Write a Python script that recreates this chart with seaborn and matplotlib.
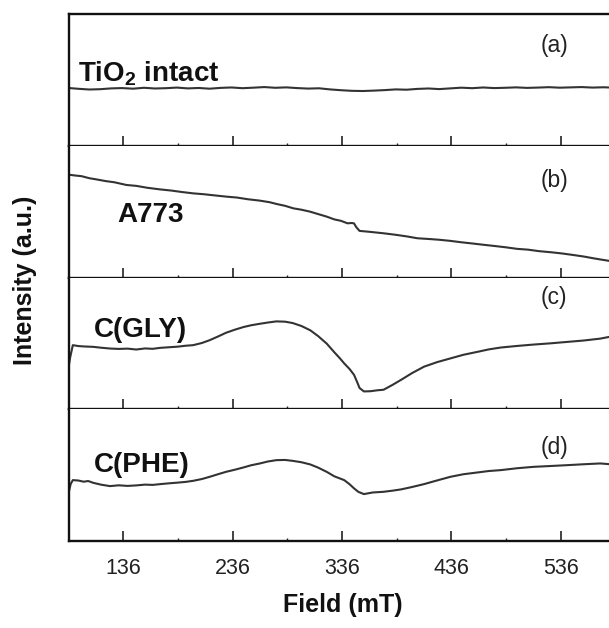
import numpy as np
import pandas as pd
import matplotlib
matplotlib.use("Agg")
import matplotlib.pyplot as plt
from matplotlib import font_manager
from matplotlib.ticker import FixedLocator
import seaborn as sns

# ---------------- data ----------------
field_a = [86, 95, 105, 115, 125, 135, 145, 155, 165, 175, 185, 195, 205, 215, 225,
           235, 245, 255, 265, 275, 285, 295, 305, 315, 325, 335, 345, 355, 365, 375,
           385, 395, 405, 415, 425, 435, 445, 455, 465, 475, 485, 495, 505, 515, 525,
           535, 545, 555, 565, 575, 580]
int_a = [57, 56.2, 55.5, 55.8, 56.6, 56.9, 56.3, 57.2, 56.5, 56.8, 57.4, 56.6, 57.0,
         56.3, 57.1, 57.5, 56.8, 57.3, 57.9, 57.2, 57.6, 56.9, 56.4, 56.7, 55.6, 54.8,
         54.2, 54.0, 54.4, 54.9, 55.6, 55.3, 56.1, 56.5, 55.9, 56.6, 57.3, 56.8, 57.5,
         56.9, 57.2, 57.6, 57.1, 57.4, 57.8, 57.3, 57.6, 57.9, 57.4, 57.7, 57.5]

field_b = [86.5, 92, 98, 105, 112, 120, 128, 139, 148, 158, 169.5, 180, 190, 200, 210,
           220, 230.5, 240, 250, 261, 270, 276, 284, 291.5, 299, 306.7, 314, 322, 329,
           335, 341, 345, 347, 349, 352, 360, 367, 374, 385, 395, 405, 415, 425, 435,
           445, 455, 466, 476, 486, 496, 506, 516, 527, 537, 547, 557, 565, 572, 580]
int_b = [103, 102.2, 101.5, 99.5, 98.2, 96.6, 95.4, 92.7, 91.8, 89.9, 88.3, 87.1, 85.6,
         84.3, 83.4, 82.2, 81, 80.1, 78.4, 77, 75.4, 73.7, 71.8, 69.3, 67.9, 66, 63.6,
         61, 58.2, 56.8, 54.3, 54.6, 54.2, 50.5, 46.7, 45.9, 45.1, 44.3, 42.8, 41.2,
         39.3, 38.6, 37.8, 36.7, 35.3, 34.1, 32.7, 31.5, 30.2, 28.7, 27.9, 26.4, 25.3,
         24.1, 22.6, 21, 19.4, 18.1, 16.7]

field_c = [86.5, 87.5, 90, 95, 100, 108.6, 116, 124, 132, 140, 148, 156, 163, 170, 178,
           186, 193, 200, 208, 215, 222, 230, 238, 246, 253, 261, 268, 276, 284, 291,
           299, 307, 314, 322, 329, 334, 338, 343, 347, 350, 352, 356, 362, 368, 374,
           382, 390, 400, 411, 423, 435, 447, 460, 470, 481, 496, 511, 526, 542, 557,
           572, 580]
int_c = [45, 52, 64.7, 63.8, 63.4, 63, 62.1, 61.3, 60.9, 61.2, 60.3, 61.4, 61, 62,
         62.6, 63.2, 64.1, 64.7, 66.9, 69.7, 73.1, 77.2, 80.3, 83, 84.8, 86.3, 87.5,
         88.7, 88.4, 87, 84, 79.7, 74, 66.3, 57.5, 51.5, 46.3, 40.5, 34.7, 27, 21.5,
         18, 18.2, 19.1, 19.7, 24.5, 29.7, 36.5, 43, 47.6, 51.3, 55, 58, 60.4, 62.3,
         63.9, 65.3, 66.5, 68, 69.4, 71.3, 73]

field_d = [86.5, 88, 90, 95, 100, 104, 108.6, 116, 124, 132, 140, 148, 156, 163, 170,
           178, 186, 193, 200, 208, 215, 223, 230, 238, 246, 253, 261, 268, 276, 284,
           291, 299, 307, 314, 322, 329, 338, 343, 347, 351, 356, 364, 374, 382, 390,
           400, 411, 423, 435, 447, 460, 470, 481, 496, 511, 526, 542, 557, 572, 580]
int_d = [50, 57, 61, 60.6, 59.4, 60.1, 58.3, 56.4, 55, 55.8, 55.2, 55.7, 56.5, 56.2,
         57, 57.8, 58.5, 59.2, 60.3, 62.1, 64.3, 67, 69.3, 71.4, 73.7, 75.9, 77.7, 79.6,
         81, 81.2, 80.3, 78.9, 76.7, 73.6, 69.3, 64.8, 61, 56.8, 52.7, 49.2, 47, 48.6,
         49.3, 50.4, 51.7, 54.1, 57, 60.7, 64.3, 66.9, 68.7, 70.1, 71, 72.9, 74.3, 75.1,
         76, 76.9, 77.7, 77]

panel_tags = ["(a)", "(b)", "(c)", "(d)"]
sample_names = ["TiO$_\\mathregular{2}$ intact", "A773", "C(GLY)", "C(PHE)"]
major_ticks = [136, 236, 336, 436, 536]
minor_ticks = [186, 286, 386, 486]

# ---------------- style ----------------
sns.set_style("white")
plt.rcParams["font.family"] = ["Liberation Sans", "DejaVu Sans"]
plt.rcParams["mathtext.fontset"] = "custom"
plt.rcParams["mathtext.rm"] = "Liberation Sans:bold"

installed = {f.name for f in font_manager.fontManager.ttflist}
if "Liberation Sans Narrow" in installed:
    tick_family, tick_size = ["Liberation Sans Narrow", "DejaVu Sans"], 17.5
else:
    tick_family, tick_size = ["Liberation Sans", "DejaVu Sans"], 15.5

fig = plt.figure(figsize=(6.09, 6.28), dpi=100)
gs = fig.add_gridspec(4, 1, left=69 / 609, right=1.0, top=1 - 14 / 628,
                      bottom=1 - 541 / 628, hspace=0)
axes = [fig.add_subplot(gs[i, 0]) for i in range(4)]

series = [(field_a, int_a), (field_b, int_b), (field_c, int_c), (field_d, int_d)]
ylims = [(0, 130), (0, 132), (0, 133), (0, 132)]
tag_y = [99, 97, 113, 94]
name_pos = [(95, 71), (131, 63), (109, 80), (109, 76)]

for i, ax in enumerate(axes):
    df = pd.DataFrame({"Field": series[i][0], "Intensity": series[i][1]})
    sns.lineplot(data=df, x="Field", y="Intensity", ax=ax, color="#333333",
                 lw=1.5, estimator=None, sort=True)
    ax.set_xlim(86.5, 580)
    ax.set_ylim(*ylims[i])
    ax.set_xlabel("")
    ax.set_ylabel("")
    ax.set_yticks([])
    ax.xaxis.set_major_locator(FixedLocator(major_ticks))
    ax.xaxis.set_minor_locator(FixedLocator(minor_ticks))
    ax.tick_params(axis="x", which="major", direction="in", length=7, width=1.2,
                   bottom=True, top=False, color="#222222", labelsize=tick_size,
                   labelcolor="#222222", pad=12)
    ax.tick_params(axis="x", which="minor", direction="in", length=2.5, width=1.0,
                   bottom=True, top=False, color="#222222")
    for s in ["left", "bottom", "top"]:
        ax.spines[s].set_linewidth(1.7)
        ax.spines[s].set_color("#111111")
    ax.spines["right"].set_visible(False)
    if i > 0:
        ax.spines["top"].set_visible(False)
    if i < 3:
        ax.tick_params(axis="x", labelbottom=False)
    ax.text(530, tag_y[i], panel_tags[i], ha="center", va="center",
            fontsize=16.5, color="#222222")
    ax.text(name_pos[i][0], name_pos[i][1], sample_names[i], ha="left",
            va="center", fontsize=20, fontweight="bold", color="#111111")

for lab in axes[3].get_xticklabels():
    lab.set_fontfamily(tick_family)

fig.text(343 / 609, 1 - 605 / 628, "Field (mT)", ha="center", va="center",
         fontsize=18, fontweight="bold", color="#111111")
fig.text(25 / 609, 1 - 280 / 628, "Intensity (a.u.)", ha="center", va="center",
         rotation=90, fontsize=18, fontweight="bold", color="#111111")

fig.savefig("out.png", dpi=100)
